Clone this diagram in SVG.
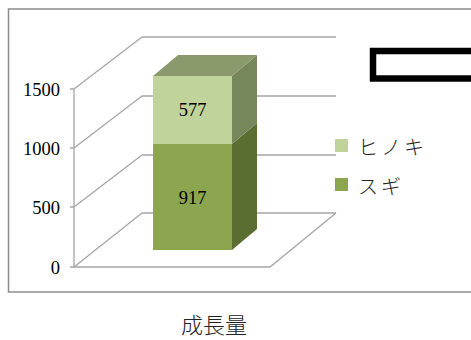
<svg xmlns="http://www.w3.org/2000/svg" width="471" height="340" viewBox="0 0 471 340">
<style>
.grid{fill:none;stroke:#a6a6a6;stroke-width:1.3}
.ax{font-family:"Liberation Serif","DejaVu Serif",serif;font-size:18.5px;fill:#000}
.val{font-family:"Liberation Serif","DejaVu Serif",serif;font-size:18.5px;fill:#000;text-anchor:middle}
.leg{font-family:"Noto Sans CJK JP",sans-serif;font-size:20px;font-weight:300;fill:#222;letter-spacing:3px}
</style>
<rect width="471" height="340" fill="#fff"/>
<rect x="8.5" y="9" width="470" height="283" fill="none" stroke="#8c8c8c" stroke-width="1.5"/>
<g id="axes" class="grid">
<path d="M142 37H336M142 96H336M142 155H336M142 213H336"/>
<path d="M74 89L142 37M74 148L142 96M74 207L142 155M74 267L142 213"/>
<path d="M74 89V267H270L336 213"/>
<path d="M70 89H74M70 148H74M70 207H74M70 267H74"/>
</g>
<g id="labels" class="ax" text-anchor="end">
<text x="60" y="96">1500</text>
<text x="60" y="155">1000</text>
<text x="60" y="214">500</text>
<text x="60" y="274">0</text>
</g>
<g id="bar">
<polygon points="153,144 232,144 232,250 153,250" fill="#8ba64f"/>
<polygon points="153,76 232,76 232,144 153,144" fill="#bfd39a"/>
<polygon points="232,144 257,123 257,229 232,250" fill="#5a6e32"/>
<polygon points="232,76 257,55 257,123 232,144" fill="#77875c"/>
<polygon points="153,76 178,55 257,55 232,76" fill="#8b9a6c"/>
<text class="val" x="192.5" y="116">577</text>
<text class="val" x="192.5" y="204">917</text>
</g>
<g id="legend">
<rect x="335" y="139" width="13" height="13" fill="#bfd39a"/>
<text class="leg" x="358" y="155">ヒノキ</text>
<rect x="335" y="178" width="13" height="13" fill="#8ba64f"/>
<text class="leg" x="358" y="194">スギ</text>
</g>
<rect id="box" x="373" y="51" width="110" height="27.5" fill="none" stroke="#000" stroke-width="6.5"/>
<text id="title" x="214" y="333" text-anchor="middle" font-family="Noto Sans CJK JP, sans-serif" font-size="22" font-weight="300" fill="#222">成長量</text>
</svg>
